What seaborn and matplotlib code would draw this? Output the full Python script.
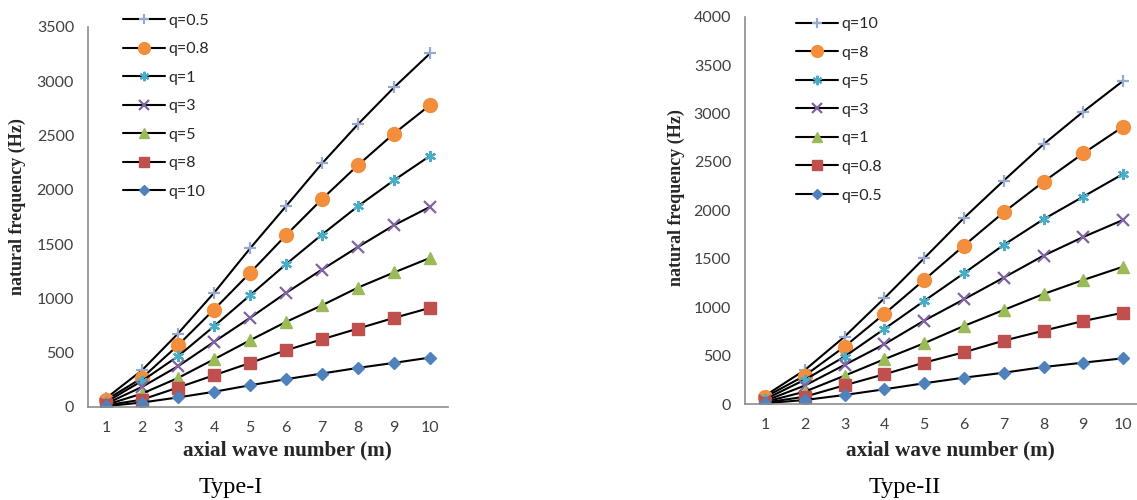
import matplotlib
matplotlib.use("Agg")
import matplotlib.pyplot as plt
import seaborn as sns
import pandas as pd

sns.set_theme(style="white")
plt.rcParams['font.family'] = ['Lato', 'DejaVu Sans']

m_values = [1, 2, 3, 4, 5, 6, 7, 8, 9, 10]

# Type-I series (legend order, top to bottom)
type1_labels = ["q=0.5", "q=0.8", "q=1", "q=3", "q=5", "q=8", "q=10"]
t1_q05 = [80, 338, 676, 1050, 1459, 1848, 2241, 2603, 2941, 3254]
t1_q08 = [65, 267, 568, 897, 1234, 1581, 1913, 2226, 2517, 2778]
t1_q1 = [45, 240, 467, 743, 1028, 1314, 1587, 1848, 2087, 2311]
t1_q3 = [30, 185, 375, 599, 820, 1050, 1265, 1473, 1673, 1842]
t1_q5 = [20, 123, 267, 439, 614, 783, 936, 1099, 1238, 1372]
t1_q8 = [15, 68, 179, 292, 405, 522, 623, 722, 820, 912]
t1_q10 = [8, 41, 88, 140, 200, 256, 308, 360, 406, 455]
type1_series = [t1_q05, t1_q08, t1_q1, t1_q3, t1_q5, t1_q8, t1_q10]

# Type-II series (legend order, top to bottom)
type2_labels = ["q=10", "q=8", "q=5", "q=3", "q=1", "q=0.8", "q=0.5"]
t2_q10 = [85, 350, 695, 1092, 1505, 1921, 2307, 2682, 3020, 3337]
t2_q8 = [70, 292, 592, 930, 1281, 1635, 1980, 2295, 2589, 2864]
t2_q5 = [48, 250, 489, 775, 1064, 1350, 1643, 1908, 2142, 2376]
t2_q3 = [32, 190, 403, 617, 861, 1081, 1305, 1532, 1725, 1901]
t2_q1 = [22, 127, 292, 462, 627, 806, 971, 1136, 1281, 1418]
t2_q08 = [15, 75, 193, 307, 427, 534, 654, 757, 857, 943]
t2_q05 = [8, 41, 93, 152, 214, 272, 323, 382, 427, 472]
type2_series = [t2_q10, t2_q8, t2_q5, t2_q3, t2_q1, t2_q08, t2_q05]

marker_colors = ["#97A9D1", "#F28E3C", "#4BACC6", "#8064A2", "#9BBB59", "#C0504D", "#4F81BD"]
marker_shapes = ["+", "o", (6, 2, 0), "x", "^", "s", "D"]
marker_sizes = [9, 10, 8, 8, 9, 8.5, 6.5]

W, H = 1137, 500
fig = plt.figure(figsize=(W / 100, H / 100), dpi=100)


def px_axes(x0, x1, ytop, ybot):
    return fig.add_axes([x0 / W, 1 - ybot / H, (x1 - x0) / W, (ybot - ytop) / H])


def draw(ax, labels, series, ymax, leg_xy):
    for lab, vals, col, mk, ms in zip(labels, series, marker_colors, marker_shapes, marker_sizes):
        df = pd.DataFrame({"m": m_values, "f": vals})
        mew = 1.6 if mk in ["+", "x", (6, 2, 0)] else 1.0
        sns.lineplot(data=df, x="m", y="f", ax=ax, color="black", linewidth=1.5,
                     marker=mk, markersize=ms, markerfacecolor=col, markeredgecolor=col,
                     markeredgewidth=mew, label=lab, legend=True)
    ax.set_xlim(0.5, 10.5)
    ax.set_ylim(0, ymax)
    ax.set_xticks(m_values)
    ax.set_yticks(list(range(0, ymax + 1, 500)))
    ax.set_xlabel("")
    ax.set_ylabel("")
    for s in ["top", "right"]:
        ax.spines[s].set_visible(False)
    for s in ["left", "bottom"]:
        ax.spines[s].set_color("#8C8C8C")
        ax.spines[s].set_linewidth(1.2)
    ax.tick_params(axis="both", length=0, labelsize=11.5, labelcolor="#404040")
    ax.tick_params(axis="y", pad=10)
    ax.tick_params(axis="x", pad=10)
    ax.set_facecolor("white")
    leg = ax.legend(loc="upper left", bbox_to_anchor=(leg_xy[0] / W, 1 - leg_xy[1] / H),
                    bbox_transform=fig.transFigure, frameon=False, fontsize=11.5,
                    handlelength=2.6, handletextpad=0.25, labelspacing=0.9,
                    borderpad=0, borderaxespad=0, markerscale=0.85)
    for t in leg.get_texts():
        t.set_color("#262626")


ax1 = px_axes(88, 448, 26.7, 407)
draw(ax1, type1_labels, type1_series, 3500, (123, 13.5))
ax2 = px_axes(745, 1143, 16.7, 404)
draw(ax2, type2_labels, type2_series, 4000, (796, 17))

serif = ['Liberation Serif', 'DejaVu Serif']
fig.text(17 / W, 1 - 207 / H, "natural frequency (Hz)", rotation=90, ha="center", va="center",
         family=serif, fontweight="bold", fontsize=13, color="#262626")
fig.text(676 / W, 1 - 198 / H, "natural frequency (Hz)", rotation=90, ha="center", va="center",
         family=serif, fontweight="bold", fontsize=13, color="#262626")
fig.text(287 / W, 1 - 450 / H, "axial wave number (m)", ha="center", va="center",
         family=serif, fontweight="bold", fontsize=15.3, color="#262626")
fig.text(950 / W, 1 - 450 / H, "axial wave number (m)", ha="center", va="center",
         family=serif, fontweight="bold", fontsize=15.3, color="#262626")
fig.text(231 / W, 1 - 488 / H, "Type-I", ha="center", va="center",
         family=serif, fontsize=17.5, color="black")
fig.text(905 / W, 1 - 488 / H, "Type-II", ha="center", va="center",
         family=serif, fontsize=17.5, color="black")

fig.savefig("out.png", dpi=100)
